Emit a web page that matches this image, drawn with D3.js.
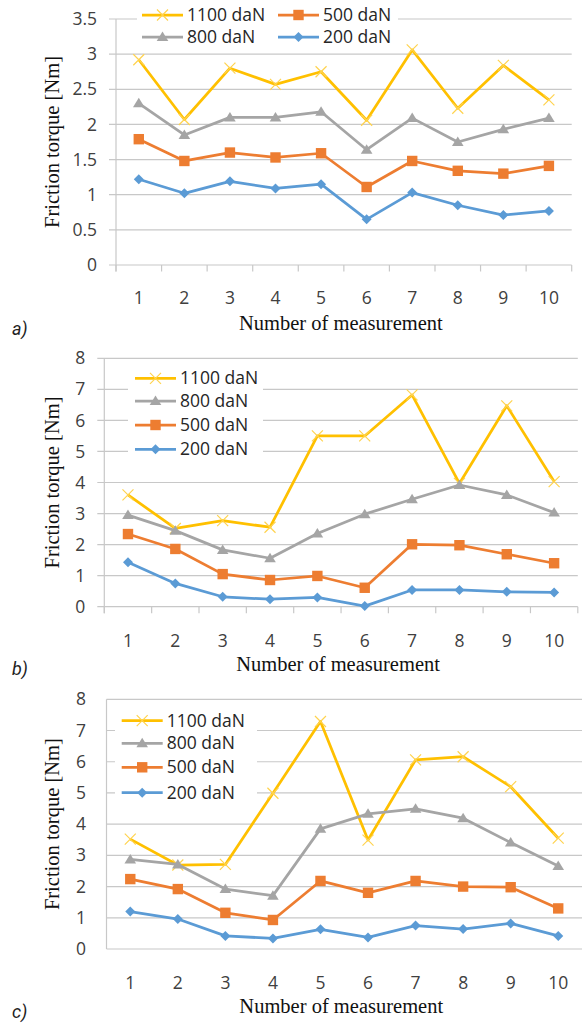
<!DOCTYPE html>
<html><head><meta charset="utf-8">
<script src="https://cdn.jsdelivr.net/npm/d3@7"></script>
<style>body{margin:0;background:#fff}svg{display:block}</style>
</head><body><svg id="chart" width="584" height="1023"></svg>
<script>
// ---------- DATA ----------
const categories = ["1","2","3","4","5","6","7","8","9","10"];
const seriesNames = ["1100 daN","800 daN","500 daN","200 daN"];
const a1100 = [2.92,2.07,2.80,2.57,2.75,2.06,3.06,2.23,2.84,2.35];
const a800  = [2.30,1.85,2.10,2.10,2.18,1.64,2.09,1.75,1.93,2.09];
const a500  = [1.79,1.48,1.60,1.53,1.59,1.11,1.48,1.34,1.30,1.41];
const a200  = [1.22,1.02,1.19,1.09,1.15,0.65,1.03,0.85,0.71,0.77];
const b1100 = [3.60,2.52,2.77,2.56,5.50,5.50,6.82,3.97,6.47,4.03];
const b800  = [2.95,2.45,1.83,1.56,2.36,2.98,3.46,3.92,3.60,3.03];
const b500  = [2.34,1.86,1.05,0.86,0.99,0.61,2.01,1.98,1.69,1.40];
const b200  = [1.43,0.75,0.32,0.24,0.30,0.02,0.54,0.54,0.48,0.46];
const c1100 = [3.52,2.69,2.71,4.99,7.29,3.49,6.06,6.16,5.20,3.55];
const c800  = [2.87,2.71,1.92,1.71,3.85,4.33,4.49,4.19,3.41,2.66];
const c500  = [2.24,1.92,1.16,0.93,2.18,1.80,2.18,2.00,1.98,1.30];
const c200  = [1.20,0.96,0.42,0.34,0.63,0.37,0.75,0.64,0.82,0.42];
const yTicksA  = [0,0.5,1,1.5,2,2.5,3,3.5];
const yTicksBC = [0,1,2,3,4,5,6,7,8];
const panelLabels = ["a)","b)","c)"];
const xTitleText = "Number of measurement";
const yTitleText = "Friction torque [Nm]";

// ---------- STYLE ----------
const colors = ["#FFC000","#A5A5A5","#ED7D31","#5B9BD5"];
const markers = ["cross","triangle","square","diamond"];
const gridColor = "#C8C8C8";
const textColor = "#404040";
const tickFont = "'Open Sans', sans-serif";

const svg = d3.select("#chart");

function drawMarker(g, type, x, y, color) {
  if (type === "cross") {
    const s = 5.5;
    g.append("path").attr("d", `M${x-s},${y-s}L${x+s},${y+s}M${x-s},${y+s}L${x+s},${y-s}`)
      .attr("stroke", "#FFD34F").attr("stroke-width", 1.2).attr("fill", "none");
  } else if (type === "triangle") {
    g.append("path").attr("d", `M${x},${y-5.5}L${x+5.8},${y+4}L${x-5.8},${y+4}Z`).attr("fill", color);
  } else if (type === "square") {
    g.append("rect").attr("x", x-5.2).attr("y", y-5.2).attr("width", 10.4).attr("height", 10.4).attr("fill", color);
  } else {
    g.append("path").attr("d", `M${x},${y-5}L${x+5},${y}L${x},${y+5}L${x-5},${y}Z`).attr("fill", color);
  }
}

function drawPanel(cfg) {
  const g = svg.append("g");
  const x = d3.scaleBand().domain(categories).range([cfg.left, cfg.right]);
  const y = d3.scaleLinear().domain([0, cfg.yMax]).range([cfg.bottom, cfg.top]);
  const cx = c => x(c) + x.bandwidth() / 2;

  // gridlines
  g.append("g").selectAll("line").data(cfg.yTicks).join("line")
    .attr("x1", cfg.left - cfg.tickOut).attr("x2", cfg.right)
    .attr("y1", d => y(d)).attr("y2", d => y(d))
    .attr("stroke", gridColor).attr("stroke-width", 1.2);

  // y axis line
  g.append("line").attr("x1", cfg.left).attr("x2", cfg.left)
    .attr("y1", cfg.top).attr("y2", cfg.bottom + cfg.xTickOut)
    .attr("stroke", gridColor).attr("stroke-width", 1.2);

  // x tick marks at category boundaries
  if (cfg.xTickOut > 0) {
    const bounds = categories.map(c => x(c) + x.bandwidth()).concat([cfg.left]);
    g.append("g").selectAll("line").data(bounds).join("line")
      .attr("x1", d => d).attr("x2", d => d)
      .attr("y1", cfg.bottom).attr("y2", cfg.bottom + cfg.xTickOut)
      .attr("stroke", gridColor).attr("stroke-width", 1.2);
  }

  // y tick labels
  const ya = g.append("g").attr("transform", `translate(${cfg.left},0)`)
    .call(d3.axisLeft(y).tickValues(cfg.yTicks).tickSize(0).tickPadding(cfg.yPad).tickFormat(d => String(d)));
  ya.select(".domain").remove();
  ya.selectAll("text").attr("font-family", tickFont).attr("font-size", 17.5).attr("fill", textColor);

  // x tick labels
  const xa = g.append("g").attr("transform", `translate(0,${cfg.bottom})`)
    .call(d3.axisBottom(x).tickSize(0).tickPadding(cfg.xPad));
  xa.select(".domain").remove();
  xa.selectAll("text").attr("font-family", tickFont).attr("font-size", 17.5).attr("fill", textColor);

  // legend background
  const lb = cfg.legendBox;
  g.append("rect").attr("x", lb[0]).attr("y", lb[1]).attr("width", lb[2]).attr("height", lb[3]).attr("fill", "#fff");

  // series
  const line = d3.line().x((d, i) => cx(categories[i])).y(d => y(d));
  cfg.series.forEach((vals, si) => {
    const sg = g.append("g");
    sg.append("path").datum(vals).attr("d", line).attr("fill", "none")
      .attr("stroke", colors[si]).attr("stroke-width", 2.75).attr("stroke-linejoin", "round");
    vals.forEach((v, i) => drawMarker(sg, markers[si], cx(categories[i]), y(v), colors[si]));
  });

  // legend entries
  cfg.legendPos.forEach((p, si) => {
    const lg = g.append("g");
    lg.append("line").attr("x1", p[0]).attr("x2", p[0] + 41).attr("y1", p[1]).attr("y2", p[1])
      .attr("stroke", colors[si]).attr("stroke-width", 2.75);
    drawMarker(lg, markers[si], p[0] + 20.5, p[1], colors[si]);
    lg.append("text").attr("x", p[0] + 45).attr("y", p[1]).attr("dy", "0.35em")
      .attr("font-family", tickFont).attr("font-size", 17.5).attr("fill", "#262626")
      .text(seriesNames[si]);
  });

  // axis titles
  g.append("text").attr("x", (cfg.left + cfg.right) / 2 - 3).attr("y", cfg.xTitleY)
    .attr("text-anchor", "middle").attr("font-family", "'Liberation Serif', 'Times New Roman', serif")
    .attr("font-size", 20.5).attr("fill", "#111").text(xTitleText);
  g.append("text").attr("transform", `translate(52,${(cfg.top + cfg.bottom) / 2}) rotate(-90)`)
    .attr("text-anchor", "middle").attr("dy", "0.33em")
    .attr("font-family", "'Liberation Serif', 'Times New Roman', serif")
    .attr("font-size", 20.5).attr("fill", "#111").text(yTitleText);

  // panel label
  g.append("text").attr("x", 12).attr("y", cfg.labelY)
    .attr("font-family", "Roboto, sans-serif").attr("font-style", "italic")
    .attr("font-size", 18).attr("fill", "#222").text(cfg.label);
}

drawPanel({
  left: 116, right: 571.7, top: 19, bottom: 265, yMax: 3.5, yTicks: yTicksA,
  tickOut: 7, xTickOut: 6.5, yPad: 19, xPad: 27,
  series: [a1100, a800, a500, a200],
  legendBox: [137, 0, 261, 49],
  legendPos: [[142, 15], [142, 37], [278, 15], [278, 37]],
  xTitleY: 330, labelY: 335, label: panelLabels[0]
});
drawPanel({
  left: 104.3, right: 577.8, top: 358.3, bottom: 606.7, yMax: 8, yTicks: yTicksBC,
  tickOut: 7, xTickOut: 6.5, yPad: 19, xPad: 27.5,
  series: [b1100, b800, b500, b200],
  legendBox: [128, 366, 135, 95],
  legendPos: [[135, 378.3], [135, 401], [135, 425], [135, 449.3]],
  xTitleY: 671, labelY: 675, label: panelLabels[1]
});
drawPanel({
  left: 106.5, right: 582, top: 699.3, bottom: 949, yMax: 8, yTicks: yTicksBC,
  tickOut: 0, xTickOut: 0, yPad: 20.5, xPad: 28,
  series: [c1100, c800, c500, c200],
  legendBox: [115, 707, 142, 97],
  legendPos: [[121.7, 720.7], [121.7, 743.3], [121.7, 767.3], [121.7, 792.7]],
  xTitleY: 1013, labelY: 1018, label: panelLabels[2]
});
</script>
</body></html>
